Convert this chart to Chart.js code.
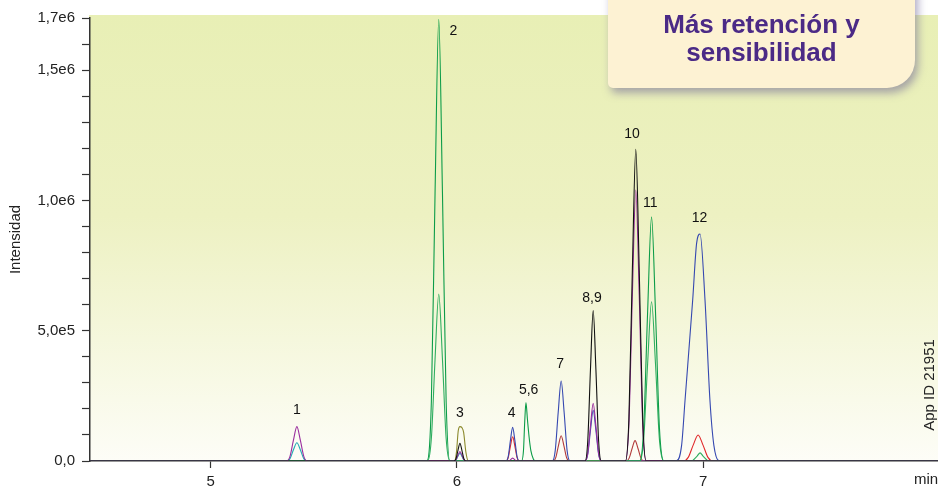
<!DOCTYPE html>
<html lang="es">
<head>
<meta charset="utf-8">
<script src="https://cdn.jsdelivr.net/npm/chart.js@4/dist/chart.umd.min.js"></script>
<style>
    body { margin: 0; background: #fff; overflow: hidden; }
    #wrap { position: relative; width: 938px; height: 491px; }
    #chart { position: absolute; left: 0; top: 0; }
    .callout {
        position: absolute; left: 608px; top: -20px; width: 307px; height: 108px;
        background: #fdf2d3; border-radius: 8px 10px 28px 5px;
        box-shadow: 3px 5px 8px rgba(110, 100, 150, 0.55);
        font-family: "Liberation Sans", Arial, sans-serif; font-weight: bold;
        font-size: 26px; line-height: 28px; color: #4b2a86; text-align: center;
    }
    .callout div { padding-top: 30px; }
</style>
</head>
<body>
<div id="wrap">
    <canvas id="chart" width="938" height="491"></canvas>
    <div class="callout"><div>Más retención y<br>sensibilidad</div></div>
</div>
<script>
// ejes
const xTicks = [5, 6, 7];
const yTickValues = [0, 100000, 200000, 300000, 400000, 500000, 600000, 700000, 800000,
    900000, 1000000, 1100000, 1200000, 1300000, 1400000, 1500000, 1600000, 1700000];
const yLabelValues = [0, 500000, 1000000, 1500000, 1700000];
const yLabelTexts = ['0,0', '5,0e5', '1,0e6', '1,5e6', '1,7e6'];

// trazas (tiempo en min, intensidad)
const tNegro = [4.51, 5.988, 5.996, 6.004, 6.012, 6.020, 6.028, 6.036,
    6.520, 6.531, 6.542, 6.553, 6.564, 6.575, 6.586,
    6.684, 6.698, 6.712, 6.726, 6.740, 6.754, 6.768, 7.953];
const iNegro = [0, 0, 9000, 41000, 68000, 41000, 9000, 0,
    0, 78000, 352000, 577000, 352000, 78000, 0,
    0, 161000, 730000, 1196000, 730000, 161000, 0, 0];

const tMagenta = [4.51, 5.308, 5.322, 5.336, 5.350, 5.364, 5.378, 5.392,
    5.988, 5.996, 6.004, 6.012, 6.020, 6.028, 6.036,
    6.210, 6.226, 6.242,
    6.520, 6.531, 6.542, 6.553, 6.564, 6.575, 6.586,
    6.684, 6.698, 6.712, 6.726, 6.740, 6.754, 6.768, 7.953];
const iMagenta = [0, 0, 18000, 80000, 132000, 80000, 18000, 0,
    0, 5000, 22000, 36000, 22000, 5000, 0,
    0, 11000, 0,
    0, 30000, 135000, 221000, 135000, 30000, 0,
    0, 140000, 634000, 1040000, 634000, 140000, 0, 0];

const tVerde1 = [4.51, 5.878, 5.896, 5.911, 5.926, 5.941, 5.956, 5.971,
    6.262, 6.270, 6.275, 6.280, 6.286, 6.293, 6.300, 6.310, 6.318,
    6.742, 6.758, 6.774, 6.790, 6.806, 6.822, 6.840, 7.953];
const iVerde1 = [0, 0, 228000, 1030000, 1695000, 1030000, 228000, 0,
    0, 40000, 150000, 224000, 160000, 90000, 40000, 8000, 0,
    0, 127000, 572000, 937000, 572000, 127000, 0, 0];

const tVerde2 = [4.51, 5.881, 5.896, 5.911, 5.926, 5.941, 5.956, 5.971,
    6.742, 6.758, 6.774, 6.790, 6.806, 6.822, 6.840,
    6.951, 6.975, 6.987, 6.999, 7.023, 7.953];
const iVerde2 = [0, 0, 87000, 391000, 641000, 391000, 87000, 0,
    0, 82000, 373000, 611000, 373000, 82000, 0,
    0, 19000, 31000, 19000, 0, 0];

const tAzul = [4.51, 6.199, 6.208, 6.217, 6.226, 6.235, 6.244, 6.253,
    6.387, 6.399, 6.411, 6.423, 6.435, 6.447, 6.459,
    6.520, 6.531, 6.542, 6.553, 6.564, 6.575, 6.586,
    6.890, 6.912, 6.926, 6.957, 6.973, 6.987, 7.007, 7.027, 7.043, 7.065, 7.953];
const iAzul = [0, 0, 17000, 79000, 129000, 79000, 17000, 0,
    0, 41000, 187000, 307000, 187000, 41000, 0,
    0, 26000, 118000, 195000, 118000, 26000, 0,
    0, 60000, 234000, 618000, 836000, 871000, 618000, 234000, 60000, 0, 0];

const tRojo = [4.51, 6.199, 6.208, 6.217, 6.226, 6.235, 6.244, 6.253,
    6.919, 6.939, 6.959, 6.979, 6.999, 7.019, 7.039, 7.953];
const iRojo = [0, 0, 13000, 57000, 93000, 57000, 13000, 0,
    0, 14000, 61000, 100000, 61000, 14000, 0, 0];

const tGranate = [4.51, 6.390, 6.401, 6.412, 6.423, 6.434, 6.445, 6.456,
    6.687, 6.699, 6.711, 6.723, 6.735, 6.747, 6.759, 7.953];
const iGranate = [0, 0, 13000, 59000, 97000, 59000, 13000, 0,
    0, 11000, 48000, 78000, 48000, 11000, 0, 0];

const tCian = [4.51, 5.308, 5.322, 5.336, 5.350, 5.364, 5.378, 5.392,
    5.988, 5.996, 6.004, 6.012, 6.020, 6.028, 6.036, 7.953];
const iCian = [0, 0, 9000, 43000, 70000, 43000, 9000, 0,
    0, 4000, 18000, 30000, 18000, 4000, 0, 0];

const tOliva = [4.51, 5.990, 5.998, 6.005, 6.012, 6.020, 6.027, 6.036, 6.046, 7.953];
const iOliva = [0, 0, 35000, 115000, 132000, 128000, 110000, 35000, 0, 0];

// etiquetas de picos [texto, tiempo, intensidad]
const peakLabels = [
    ['1', 5.350, 195000], ['2', 5.985, 1650000], ['3', 6.012, 184000],
    ['4', 6.222, 184000], ['5,6', 6.291, 272000], ['7', 6.419, 372000],
    ['8,9', 6.548, 625000], ['10', 6.711, 1253000], ['11', 6.785, 990000],
    ['12', 6.985, 932000]
];

const FONT = '"Liberation Sans", Arial, sans-serif';

const traces = [
    ['negro', '#111111', tNegro, iNegro],
    ['magenta', '#9a2e9e', tMagenta, iMagenta],
    ['verde1', '#0c9c48', tVerde1, iVerde1],
    ['verde2', '#2fae5f', tVerde2, iVerde2],
    ['azul', '#3548b0', tAzul, iAzul],
    ['rojo', '#e0282a', tRojo, iRojo],
    ['granate', '#b23a3a', tGranate, iGranate],
    ['cian', '#22aab4', tCian, iCian],
    ['oliva', '#8c8a2e', tOliva, iOliva]
];

const fondo = {
    id: 'fondo',
    beforeDraw(chart) {
        const { ctx, chartArea } = chart;
        const top = chartArea.top - 3;
        const g = ctx.createLinearGradient(0, top, 0, chartArea.bottom);
        g.addColorStop(0, '#e8efb5');
        g.addColorStop(0.45, '#edf1c2');
        g.addColorStop(1, '#fdfdf7');
        ctx.save();
        ctx.fillStyle = g;
        ctx.fillRect(chartArea.left - 1, top, 938 - chartArea.left + 1, chartArea.bottom - top);
        ctx.restore();
    },
    afterDraw(chart) {
        const { ctx, scales } = chart;
        ctx.save();
        ctx.fillStyle = '#111';
        ctx.font = '14px ' + FONT;
        ctx.textAlign = 'center';
        ctx.textBaseline = 'middle';
        peakLabels.forEach(([txt, t, v]) => {
            ctx.fillText(txt, scales.x.getPixelForValue(t), scales.y.getPixelForValue(v));
        });
        ctx.fillStyle = '#222';
        ctx.font = '15px ' + FONT;
        ctx.textAlign = 'left';
        ctx.fillText('min', 914, 480);
        ctx.translate(930, 385);
        ctx.rotate(-Math.PI / 2);
        ctx.textAlign = 'center';
        ctx.fillText('App ID 21951', 0, 0);
        ctx.restore();
    }
};

new Chart(document.getElementById('chart'), {
    type: 'line',
    data: {
        datasets: traces.map(([nombre, color, t, v]) => ({
            label: nombre,
            data: t.map((x, k) => ({ x, y: v[k] })),
            borderColor: color,
            borderWidth: 1.1,
            pointRadius: 0,
            cubicInterpolationMode: 'monotone',
            fill: false
        }))
    },
    options: {
        responsive: false,
        animation: false,
        layout: { padding: { top: 18, right: 0, left: 0, bottom: 0 } },
        plugins: { legend: { display: false }, tooltip: { enabled: false } },
        scales: {
            x: {
                type: 'linear',
                min: 4.51,
                max: 7.953,
                afterBuildTicks: s => { s.ticks = xTicks.map(v => ({ value: v })); },
                afterFit: s => { s.height = 30; },
                grid: { drawOnChartArea: false, tickLength: 7, color: '#333', tickWidth: 1.2 },
                border: { color: '#333', width: 1.5 },
                ticks: { color: '#222', font: { size: 15, family: FONT }, padding: 5, maxRotation: 0 }
            },
            y: {
                min: 0,
                max: 1700000,
                afterBuildTicks: s => { s.ticks = yTickValues.map(v => ({ value: v })); },
                afterFit: s => { s.width = 90; },
                grid: { drawOnChartArea: false, tickLength: 8, color: '#333', tickWidth: 1.2 },
                border: { color: '#333', width: 1.5 },
                ticks: {
                    autoSkip: false,
                    color: '#222',
                    font: { size: 15, family: FONT },
                    padding: 7,
                    callback: v => {
                        const k = yLabelValues.indexOf(v);
                        return k >= 0 ? yLabelTexts[k] : '';
                    }
                },
                title: {
                    display: true,
                    text: 'Intensidad',
                    color: '#222',
                    font: { size: 15, family: FONT },
                    padding: { top: 7, bottom: 0 }
                }
            }
        }
    },
    plugins: [fondo]
});
</script>
</body>
</html>
